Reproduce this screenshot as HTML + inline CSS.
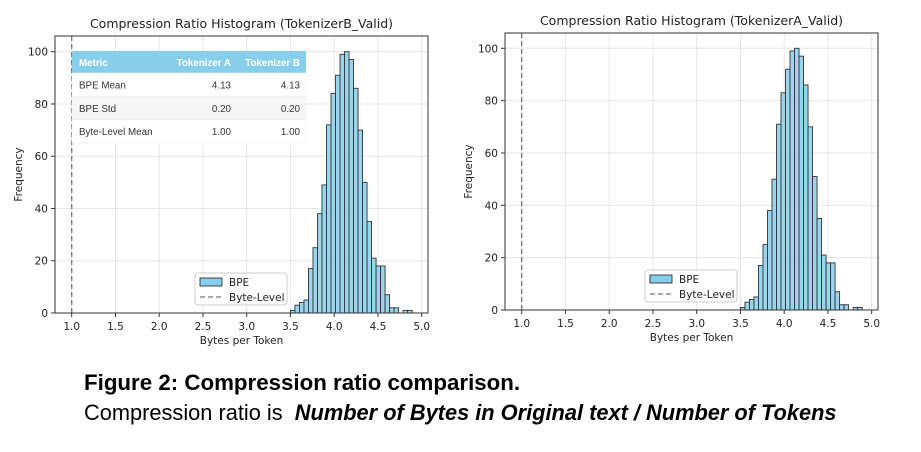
<!DOCTYPE html>
<html><head><meta charset="utf-8">
<style>
body{margin:0;background:#fff;width:921px;height:452px;overflow:hidden;font-family:"DejaVu Sans","Liberation Sans",sans-serif;}
svg{position:absolute;left:0;top:0}
.cap{position:absolute;left:84px;font-family:"Liberation Sans",sans-serif;color:#000;white-space:nowrap}
</style></head>
<body>
<svg id="chart" width="921" height="360"></svg>
<div class="cap" style="top:370px;font-size:22.3px;font-weight:bold">Figure 2: Compression ratio comparison.</div>
<div class="cap" style="top:400px;font-size:21.8px">Compression ratio is &nbsp;<i><b style="font-weight:600">Number of Bytes in Original text / Number of Tokens</b></i></div>
<script>
const binStart = 3.50;
const binWidth = 0.0515;
const countsB = [1,3,4,5,17,25,38,49,72,84,91,99,100,97,86,70,50,35,21,18,18,7,2,2,0,1,1];
const countsA = [1,3,4,5,17,25,38,50,71,83,92,99,100,97,86,70,51,35,21,18,18,7,2,2,0,1,1];
const xTicks = [1.0,1.5,2.0,2.5,3.0,3.5,4.0,4.5,5.0];
const yTicks = [0,20,40,60,80,100];
const NS='http://www.w3.org/2000/svg';
const svg=document.getElementById('chart');
function el(t,a,p){const e=document.createElementNS(NS,t);for(const k in a)e.setAttribute(k,a[k]);(p||svg).appendChild(e);return e;}
function draw(cfg){
  const g=el('g',{});
  
  
  const X=v=>cfg.x1+(v-1)*cfg.ux, Y=v=>cfg.y0-v*(cfg.y0-cfg.y100)/100;
  xTicks.forEach(t=>{const l=el('line',{x1:X(t),x2:X(t),y1:cfg.top,y2:cfg.y0,stroke:'#e6e6e6','stroke-width':1},g);
    });
  yTicks.forEach(t=>{const l=el('line',{x1:cfg.left,x2:cfg.right,y1:Y(t),y2:Y(t),stroke:'#e6e6e6','stroke-width':1},g);
    });
  cfg.data.forEach((c,i)=>{if(!c)return;const x0=X(binStart+i*binWidth);
    const r=el('rect',{x:x0,y:Y(c),width:binWidth*cfg.ux,height:Y(0)-Y(c),fill:'#87ceeb','fill-opacity':0.85,stroke:'#333','stroke-width':0.9},g);
    });
  const bl=el('line',{x1:X(1),x2:X(1),y1:cfg.top,y2:cfg.y0,stroke:'#777','stroke-width':1.3,'stroke-dasharray':'5,3'},g);
  
  const f=el('rect',{x:cfg.left,y:cfg.top,width:cfg.right-cfg.left,height:cfg.y0-cfg.top,fill:'none',stroke:'#333','stroke-width':1},g);
  
  xTicks.forEach(t=>{el('line',{x1:X(t),x2:X(t),y1:cfg.y0,y2:cfg.y0+4,stroke:'#333'},g);
    const tx=el('text',{x:X(t),y:cfg.y0+17,'font-size':10.5,'text-anchor':'middle',fill:'#222'},g);tx.textContent=t.toFixed(1);
    });
  yTicks.forEach(t=>{el('line',{x1:cfg.left-4,x2:cfg.left,y1:Y(t),y2:Y(t),stroke:'#333'},g);
    const tx=el('text',{x:cfg.left-7,y:Y(t)+4,'font-size':10.5,'text-anchor':'end',fill:'#222'},g);tx.textContent=t;
    });
  const tt=el('text',{x:(cfg.left+cfg.right)/2,y:cfg.top-8,'font-size':12.5,'text-anchor':'middle',fill:'#222'},g);tt.textContent=cfg.title;
  
  const xl=el('text',{x:(cfg.left+cfg.right)/2,y:cfg.y0+31,'font-size':10.5,'text-anchor':'middle',fill:'#222'},g);xl.textContent='Bytes per Token';
  
  const yy=(cfg.top+cfg.y0)/2;
  const yl=el('text',{x:cfg.left-33,y:yy,'font-size':10.5,'text-anchor':'middle',fill:'#222',transform:`rotate(-90 ${cfg.left-33} ${yy})`},g);yl.textContent='Frequency';
  
  const lg=el('g',{},g);
  
  el('rect',{x:cfg.lx,y:cfg.ly,width:92,height:32,rx:3,fill:'#fff','fill-opacity':0.85,stroke:'#ccc'},lg);
  el('rect',{x:cfg.lx+5,y:cfg.ly+5,width:22,height:8,fill:'#87ceeb',stroke:'#333','stroke-width':0.9},lg);
  const t1=el('text',{x:cfg.lx+34,y:cfg.ly+13,'font-size':10.5,fill:'#222'},lg);t1.textContent='BPE';
  
  el('line',{x1:cfg.lx+5,x2:cfg.lx+27,y1:cfg.ly+24,y2:cfg.ly+24,stroke:'#777','stroke-width':1.3,'stroke-dasharray':'5,3'},lg);
  const t2=el('text',{x:cfg.lx+34,y:cfg.ly+28,'font-size':10.5,fill:'#222'},lg);t2.textContent='Byte-Level';
  
}
draw({name:'histogram-tokenizer-b',title:'Compression Ratio Histogram (TokenizerB_Valid)',data:countsB,left:55,right:428,top:36,y0:313,y100:51.7,x1:71.7,ux:87.5,lx:195,ly:273});
draw({name:'histogram-tokenizer-a',title:'Compression Ratio Histogram (TokenizerA_Valid)',data:countsA,left:505,right:878,top:33,y0:310,y100:48.3,x1:521.7,ux:87.5,lx:645,ly:270});
const tRows=[['BPE Mean','4.13','4.13'],['BPE Std','0.20','0.20'],['Byte-Level Mean','1.00','1.00']];
const tb=el('g',{});


el('rect',{x:72,y:51,width:234,height:22,fill:'#87ceeb'},tb);
[['Metric',79,'start'],['Tokenizer A',231,'end'],['Tokenizer B',300,'end']].forEach(h=>{const t=el('text',{x:h[1],y:66,'font-size':9.8,'font-weight':'bold',fill:'#fff','text-anchor':h[2],'font-family':'Liberation Sans'},tb);t.textContent=h[0];
  });
tRows.forEach((r,i)=>{const y=73+i*23.3;
  el('rect',{x:72,y:y,width:234,height:23.3,fill:i%2?'#f6f6f6':'#fff',stroke:'#eee','stroke-width':0.6},tb);
  [[r[0],79,'start'],[r[1],231,'end'],[r[2],300,'end']].forEach(c=>{const t=el('text',{x:c[1],y:y+15.5,'font-size':9.8,fill:'#333','text-anchor':c[2],'font-family':'Liberation Sans'},tb);t.textContent=c[0];
    });});
</script>
</body></html>
